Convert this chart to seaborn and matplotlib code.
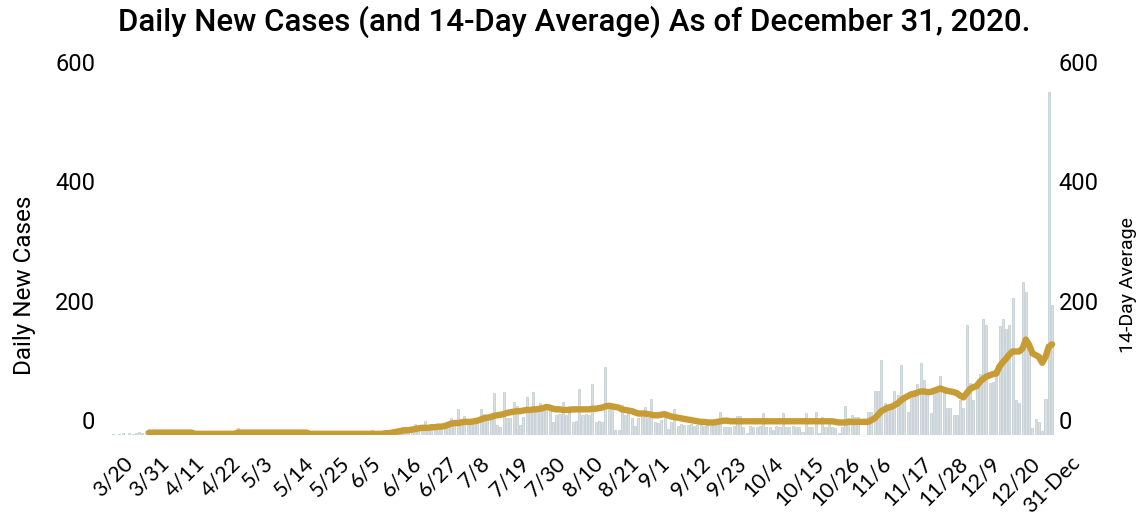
import numpy as np
import pandas as pd
import matplotlib
matplotlib.use("Agg")
import matplotlib.pyplot as plt
from matplotlib.transforms import ScaledTranslation
import seaborn as sns

# ---------------- data ----------------
# daily new cases, one value per day from 3/20 to 12/31 (11 values per row)
daily_cases = [
    2, 0, 1, 3, 0, 4, 2, 3, 5, 4, 6,            # 3/20
    3, 5, 2, 6, 4, 3, 2, 5, 4, 1, 3,            # 3/31
    1, 0, 2, 1, 0, 1, 2, 0, 1, 0, 2,            # 4/11
    3, 4, 2, 5, 3, 12, 4, 3, 5, 2, 4,           # 4/22
    3, 5, 4, 2, 6, 3, 4, 5, 3, 4, 2,            # 5/3
    3, 4, 5, 2, 3, 1, 2, 0, 1, 3, 2,            # 5/14
    1, 2, 0, 3, 1, 2, 1, 0, 2, 3, 1,            # 5/25
    2, 1, 8, 3, 4, 2, 5, 3, 6, 4, 7,            # 6/5
    13, 8, 6, 9, 18, 10, 11, 24, 12, 13, 11,    # 6/16
    18, 14, 15, 16, 28, 17, 43, 20, 32, 22, 21, # 6/27
    23, 24, 43, 35, 25, 28, 70, 16, 14, 72, 29, # 7/8
    29, 56, 48, 17, 30, 64, 39, 72, 40, 53, 44, # 7/19
    50, 44, 22, 33, 35, 56, 33, 48, 22, 24, 77, # 7/30
    33, 35, 33, 85, 22, 24, 22, 114, 54, 44, 8, # 8/10
    8, 50, 33, 40, 28, 15, 28, 30, 47, 28, 60,  # 8/21
    22, 20, 25, 38, 10, 22, 44, 15, 18, 16, 17, # 9/1
    18, 15, 16, 17, 15, 18, 16, 17, 18, 39, 14, # 9/12
    14, 13, 15, 32, 32, 14, 3, 15, 14, 13, 15,  # 9/23
    37, 14, 13, 8, 15, 14, 37, 13, 14, 15, 13,  # 10/4
    14, 5, 37, 13, 14, 38, 3, 30, 14, 25, 13,   # 10/15
    12, 3, 14, 49, 28, 33, 30, 31, 0, 0, 39,    # 10/26
    39, 73, 73, 126, 54, 45, 47, 73, 67, 117, 64,   # 11/6
    39, 70, 76, 85, 121, 93, 75, 37, 72, 78, 99,    # 11/17
    70, 45, 45, 34, 34, 59, 45, 184, 87, 59, 89,    # 11/28
    103, 194, 184, 87, 89, 100, 182, 194, 177, 184, 229,  # 12/9
    59, 53, 257, 240, 137, 11, 26, 22, 7, 61, 574,  # 12/20
    218,                                            # 12/31
]

# 14-day average, one value per day from 3/31 to 12/31
avg_14day = [
    4, 4, 4, 4, 4, 4, 4, 4, 4, 4, 4,            # 3/31
    4, 4, 4, 2, 2, 2, 2, 2, 2, 2, 2,            # 4/11
    2, 2, 2, 2, 2, 4, 4, 4, 4, 4, 4,            # 4/22
    4, 4, 4, 4, 4, 4, 4, 4, 4, 4, 4,            # 5/3
    4, 4, 4, 4, 4, 2, 2, 2, 2, 2, 2,            # 5/14
    2, 2, 2, 2, 2, 2, 2, 2, 2, 2, 2,            # 5/25
    2, 2, 2, 2, 2, 2, 3, 3, 4, 5, 6,            # 6/5
    7, 8, 8, 9, 10, 11, 12, 12, 12, 13, 13,     # 6/16
    14, 14, 15, 17, 19, 20, 20, 21, 22, 22, 22, # 6/27
    23, 24, 26, 28, 29, 30, 32, 33, 34, 35, 37, # 7/8
    38, 39, 40, 40, 41, 42, 42, 43, 43, 44, 45, # 7/19
    47, 46, 44, 43, 43, 42, 42, 42, 43, 43, 43, # 7/30
    43, 43, 43, 44, 44, 45, 46, 48, 49, 48, 47, # 8/10
    46, 43, 42, 41, 40, 38, 36, 36, 36, 35, 34, # 8/21
    33, 33, 34, 35, 33, 31, 30, 29, 28, 27, 26, # 9/1
    25, 24, 23, 22, 22, 21, 21, 21, 22, 23, 24, # 9/12
    24, 23, 23, 23, 23, 23, 23, 23, 23, 23, 23, # 9/23
    23, 23, 23, 23, 23, 23, 23, 23, 23, 23, 23, # 10/4
    23, 23, 23, 23, 23, 23, 23, 23, 23, 23, 23, # 10/15
    22, 21, 21, 21, 22, 22, 22, 22, 22, 22, 22, # 10/26
    25, 28, 34, 40, 43, 46, 47, 50, 53, 58, 62, # 11/6
    65, 68, 69, 71, 73, 73, 72, 72, 74, 76, 78, # 11/17
    76, 74, 73, 72, 70, 66, 63, 70, 77, 80, 82, # 11/28
    89, 94, 98, 100, 102, 103, 115, 122, 128, 135, 140,  # 12/9
    140, 140, 145, 160, 151, 137, 134, 131, 121, 131, 148,  # 12/20
    152,                                        # 12/31
]

tick_labels = ["3/20", "3/31", "4/11", "4/22", "5/3", "5/14", "5/25", "6/5",
               "6/16", "6/27", "7/8", "7/19", "7/30", "8/10", "8/21", "9/1",
               "9/12", "9/23", "10/4", "10/15", "10/26", "11/6", "11/17",
               "11/28", "12/9", "12/20", "31-Dec"]
y_ticks = [0, 200, 400, 600]

title = "Daily New Cases (and 14-Day Average) As of December 31, 2020."

# ---------------- build frames ----------------
day_index = np.arange(len(daily_cases))
bars_df = pd.DataFrame({"day": day_index, "cases": daily_cases})
avg_df = pd.DataFrame({"day": day_index[len(daily_cases) - len(avg_14day):],
                       "avg": avg_14day})
tick_pos = day_index[::11]

# ---------------- plot ----------------
sns.set_theme(style="white")
plt.rcParams["font.family"] = ["Roboto", "DejaVu Sans"]
plt.rcParams["text.color"] = "black"
plt.rcParams["xtick.color"] = "black"
plt.rcParams["ytick.color"] = "black"

fig = plt.figure(figsize=(11.4, 5.17), dpi=100)
ax = fig.add_axes([0.0947, 0.1586, 0.8325, 0.6925])

sns.barplot(data=bars_df, x="day", y="cases", ax=ax, color="#d9e0e3",
            saturation=1, width=0.62, edgecolor="#b3c0c5", linewidth=0.4)

ax2 = ax.twinx()
sns.lineplot(data=avg_df, x="day", y="avg", ax=ax2, color="#c89c34",
             linewidth=4.6, solid_capstyle="round", solid_joinstyle="round")

for a in (ax, ax2):
    a.set_xlim(-1.5, len(daily_cases) + 0.5)
    a.set_ylim(0, 600)
    a.set_yticks(y_ticks)
    a.set_xlabel("")
    a.set_ylabel("")
    for s in a.spines.values():
        s.set_visible(False)
    a.grid(False)

ax.set_xticks(tick_pos)
ax.set_xticklabels(tick_labels, rotation=45, ha="center", fontsize=15.5,
                   family=["Lato", "DejaVu Sans"], color="black")
ax.tick_params(axis="x", length=0, pad=13)
ax.tick_params(axis="y", length=0, pad=9, labelsize=17, labelcolor="black")
ax2.tick_params(axis="y", length=0, pad=1, labelsize=17, labelcolor="black")
ax.set_yticklabels([str(v) for v in y_ticks])
ax2.set_yticklabels([str(v) for v in y_ticks])

shift = ScaledTranslation(0, 0.15, fig.dpi_scale_trans)
for lab in ax.get_yticklabels() + ax2.get_yticklabels():
    lab.set_transform(lab.get_transform() + shift)

fig.text(0.5035, 0.957, title, ha="center", va="center", fontsize=22.5,
         fontweight="medium", color="black")
fig.text(0.0219, 0.449, "Daily New Cases", rotation=90, ha="center",
         va="center", fontsize=17.5, color="black")
fig.text(0.9895, 0.449, "14-Day Average", rotation=90, ha="center",
         va="center", fontsize=14, color="black")

fig.savefig("out.png", dpi=100, facecolor="white")
